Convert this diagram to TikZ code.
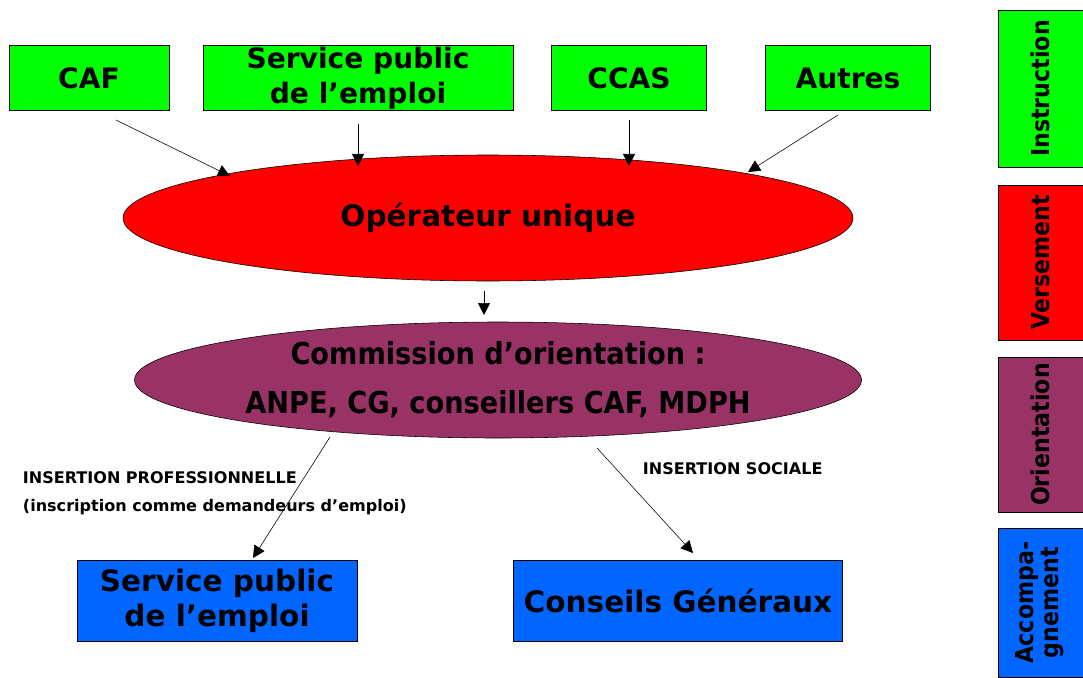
\documentclass[tikz,border=0pt]{standalone}
\usepackage{fontspec}
\setmainfont{DejaVu Sans}
\newfontfamily\condfont{DejaVu Sans Condensed}
\usepackage{xcolor}
\usepackage{tikz}
\usetikzlibrary{arrows.meta, shapes.geometric}

\definecolor{vert}{RGB}{0,255,0}
\definecolor{rouge}{RGB}{255,0,0}
\definecolor{prune}{RGB}{153,51,102}
\definecolor{bleu}{RGB}{0,102,255}

\begin{document}
\begin{tikzpicture}[
    x=0.025cm, y=-0.025cm,
    topbox/.style={draw, fill=vert, inner sep=0pt, font=\fontsize{20}{25}\selectfont\bfseries, align=center},
    endbox/.style={draw, fill=bleu, inner sep=0pt, font=\fontsize{21}{25}\selectfont\bfseries, align=center},
    sidebox/.style={draw, inner sep=0pt, minimum width=85*0.025cm, font=\condfont\fontsize{17.5}{18}\selectfont\bfseries, align=center},
    oval/.style={draw, ellipse, inner sep=0pt, align=center},
    tag/.style={font=\fontsize{11.4}{13}\selectfont\bfseries, anchor=west},
    arr/.style={-{Triangle[length=3mm, width=3mm]}, thin},
    >=Triangle
]
\useasboundingbox (0,0) rectangle (1083,677);

% Instruction
\node[topbox, minimum width=160*0.025cm, minimum height=65*0.025cm] (caf) at (89,78) {CAF};
\node[topbox, minimum width=310*0.025cm, minimum height=65*0.025cm] (spe) at (358,78) {Service public\\de l’emploi};
\node[topbox, minimum width=155*0.025cm, minimum height=65*0.025cm] (ccas) at (629,78) {CCAS};
\node[topbox, minimum width=165*0.025cm, minimum height=65*0.025cm] (autres) at (848,78) {Autres};

% Versement
\node[oval, fill=rouge, minimum width=730*0.025cm, minimum height=126*0.025cm, font=\fontsize{21}{23}\selectfont\bfseries] (op) at (488,218) {Opérateur unique};

% Orientation
\node[oval, fill=prune, minimum width=727*0.025cm, minimum height=116*0.025cm, font=\condfont\fontsize{21.5}{35}\selectfont\bfseries] (com) at (498,380) {Commission d’orientation :\\ANPE, CG, conseillers CAF, MDPH};

% Accompagnement
\node[endbox, minimum width=280*0.025cm, minimum height=81*0.025cm] (spe2) at (217,601) {Service public\\de l’emploi};
\node[endbox, minimum width=329*0.025cm, minimum height=81*0.025cm] (cg) at (678,601) {Conseils Généraux};

% Arrows
\coordinate (a1) at (116,120); \coordinate (b1) at (230,176);
\coordinate (a2) at (358,124); \coordinate (b2) at (358,166);
\coordinate (a3) at (629,120); \coordinate (b3) at (629,166);
\coordinate (a4) at (838,115); \coordinate (b4) at (748,172);
\draw[arr] (a1) -- (b1);
\draw[arr] (a2) -- (b2);
\draw[arr] (a3) -- (b3);
\draw[arr] (a4) -- (b4);
\coordinate (a5) at (484,291); \coordinate (b5) at (484,315);
\draw[arr] (a5) -- (b5);
\coordinate (a6) at (330,437); \coordinate (b6) at (253,558);
\coordinate (a7) at (597,448); \coordinate (b7) at (693,553);
\draw[arr] (a6) -- (b6);
\draw[arr] (a7) -- (b7);

% Labels
\node[tag] (pro) at (18,478) {INSERTION PROFESSIONNELLE};
\node[tag] (insc) at (18,507) {(inscription comme demandeurs d’emploi)};
\node[tag] (soc) at (638,469) {INSERTION SOCIALE};

% Side legend
\node[sidebox, fill=vert, minimum height=157*0.025cm] (s1) at (1040.5,88.5) {\rotatebox{90}{Instruction}};
\node[sidebox, fill=rouge, minimum height=155*0.025cm] (s2) at (1040.5,262.5) {\rotatebox{90}{Versement}};
\node[sidebox, fill=prune, minimum height=155*0.025cm] (s3) at (1040.5,434.5) {\rotatebox{90}{Orientation}};
\node[sidebox, fill=bleu, minimum height=149*0.025cm] (s4) at (1040.5,602.5) {\rotatebox{90}{\begin{tabular}{@{}c@{}}Accompa-\\gnement\end{tabular}}};

\end{tikzpicture}
\end{document}
